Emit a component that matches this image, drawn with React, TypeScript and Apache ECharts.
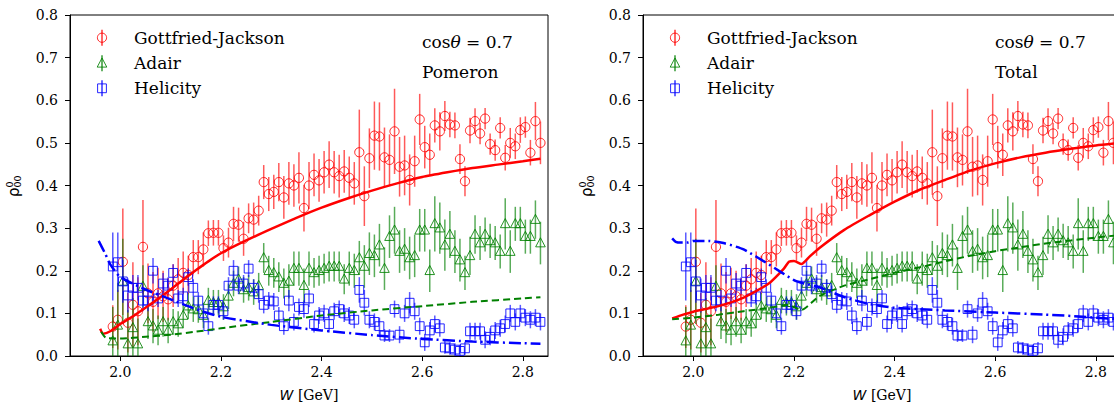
import React, { useEffect, useRef } from "react";
import * as echarts from "echarts";

// W bin centres [GeV]
const W = [1.985,1.995,2.005,2.015,2.025,2.035,2.045,2.055,2.065,2.075,2.085,2.095,2.105,2.115,2.125,2.135,2.145,2.155,2.165,2.175,2.185,2.195,2.205,2.215,2.225,2.235,2.245,2.255,2.265,2.275,2.285,2.295,2.305,2.315,2.325,2.335,2.345,2.355,2.365,2.375,2.385,2.395,2.405,2.415,2.425,2.435,2.445,2.455,2.465,2.475,2.485,2.495,2.505,2.515,2.525,2.535,2.545,2.555,2.565,2.575,2.585,2.595,2.605,2.615,2.625,2.635,2.645,2.655,2.665,2.675,2.685,2.695,2.705,2.715,2.725,2.735,2.745,2.755,2.765,2.775,2.785,2.795,2.805,2.815,2.825,2.835];

// Gottfried-Jackson
const GJ = [0.069,0.085,0.221,0.078,0.120,0.105,0.256,0.147,0.127,0.147,0.140,0.133,0.165,0.180,0.195,0.190,0.232,0.232,0.250,0.288,0.289,0.289,0.253,0.266,0.310,0.308,0.275,0.323,0.320,0.341,0.408,0.380,0.385,0.408,0.372,0.405,0.400,0.418,0.347,0.400,0.425,0.412,0.431,0.449,0.431,0.422,0.433,0.418,0.405,0.478,0.375,0.464,0.517,0.515,0.466,0.460,0.527,0.444,0.447,0.413,0.457,0.555,0.490,0.472,0.541,0.527,0.563,0.543,0.541,0.462,0.410,0.529,0.551,0.522,0.557,0.497,0.483,0.535,0.465,0.500,0.492,0.530,0.537,0.477,0.551,0.500];
const GJ_ERR = [0.05,0.07,0.125,0.07,0.10,0.08,0.11,0.07,0.07,0.06,0.06,0.05,0.05,0.05,0.05,0.045,0.04,0.04,0.04,0.03,0.03,0.03,0.03,0.035,0.04,0.04,0.04,0.035,0.04,0.035,0.04,0.04,0.04,0.045,0.05,0.05,0.05,0.06,0.055,0.055,0.05,0.05,0.05,0.055,0.05,0.05,0.05,0.05,0.05,0.1,0.07,0.07,0.08,0.08,0.07,0.06,0.1,0.07,0.07,0.06,0.06,0.06,0.05,0.05,0.04,0.045,0.035,0.03,0.03,0.035,0.035,0.03,0.03,0.025,0.025,0.025,0.025,0.025,0.03,0.035,0.03,0.03,0.025,0.03,0.045,0.05];

// Adair
const AD = [0.035,0.072,0.175,0.028,0.066,0.028,0.163,0.080,0.070,0.060,0.080,0.060,0.080,0.075,0.095,0.117,0.110,0.108,0.095,0.130,0.125,0.125,0.115,0.140,0.170,0.180,0.155,0.160,0.150,0.165,0.230,0.200,0.195,0.185,0.170,0.175,0.205,0.205,0.165,0.205,0.195,0.200,0.205,0.210,0.210,0.210,0.180,0.205,0.200,0.230,0.210,0.240,0.235,0.260,0.205,0.280,0.295,0.245,0.250,0.230,0.235,0.295,0.295,0.200,0.310,0.300,0.260,0.285,0.245,0.225,0.195,0.235,0.285,0.265,0.285,0.270,0.265,0.245,0.310,0.245,0.310,0.310,0.280,0.280,0.320,0.265];
const AD_ERR = [0.08,0.1,0.1,0.08,0.07,0.06,0.05,0.04,0.04,0.035,0.035,0.03,0.03,0.03,0.03,0.03,0.03,0.03,0.03,0.03,0.03,0.03,0.03,0.03,0.03,0.03,0.03,0.03,0.03,0.03,0.035,0.035,0.035,0.035,0.035,0.04,0.04,0.04,0.04,0.04,0.035,0.035,0.035,0.035,0.035,0.035,0.035,0.04,0.04,0.04,0.05,0.05,0.05,0.05,0.05,0.05,0.055,0.05,0.05,0.05,0.05,0.05,0.05,0.05,0.065,0.06,0.06,0.055,0.05,0.05,0.04,0.045,0.045,0.04,0.04,0.04,0.04,0.04,0.06,0.05,0.04,0.04,0.04,0.04,0.045,0.05];

// Helicity
const HE = [0.210,0.220,0.175,0.142,0.160,0.160,0.130,0.130,0.200,0.135,0.170,0.165,0.195,0.135,0.140,0.185,0.160,0.130,0.100,0.070,0.120,0.120,0.105,0.165,0.200,0.165,0.170,0.205,0.160,0.145,0.120,0.130,0.128,0.095,0.070,0.130,0.080,0.115,0.110,0.135,0.075,0.095,0.100,0.075,0.105,0.110,0.100,0.095,0.085,0.155,0.125,0.085,0.080,0.070,0.048,0.048,0.110,0.050,0.100,0.125,0.105,0.070,0.032,0.060,0.075,0.065,0.020,0.018,0.015,0.012,0.018,0.058,0.058,0.058,0.038,0.045,0.060,0.065,0.075,0.100,0.080,0.100,0.090,0.085,0.090,0.080];
const HE_ERR = [0.08,0.07,0.05,0.04,0.03,0.03,0.025,0.025,0.03,0.02,0.025,0.02,0.02,0.02,0.02,0.02,0.02,0.02,0.02,0.02,0.02,0.02,0.02,0.02,0.025,0.02,0.02,0.02,0.02,0.02,0.02,0.02,0.02,0.02,0.02,0.025,0.02,0.02,0.02,0.02,0.02,0.02,0.02,0.02,0.02,0.02,0.02,0.02,0.02,0.03,0.03,0.02,0.02,0.02,0.015,0.015,0.02,0.02,0.02,0.025,0.02,0.02,0.02,0.02,0.02,0.02,0.015,0.015,0.015,0.015,0.015,0.02,0.02,0.02,0.02,0.02,0.02,0.02,0.02,0.02,0.02,0.02,0.02,0.02,0.02,0.02];

// Model curves — Pomeron panel
const POM_GJ = [[1.96,0.064],[1.966,0.052],[1.98,0.058],[2.0,0.075],[2.025,0.093],[2.05,0.113],[2.075,0.134],[2.1,0.156],[2.125,0.179],[2.15,0.201],[2.175,0.222],[2.2,0.241],[2.25,0.271],[2.3,0.298],[2.35,0.324],[2.4,0.348],[2.45,0.369],[2.5,0.388],[2.55,0.405],[2.6,0.42],[2.65,0.431],[2.7,0.441],[2.75,0.449],[2.8,0.457],[2.835,0.463]];
const POM_AD = [[1.962,0.057],[1.972,0.042],[2.0,0.041],[2.05,0.045],[2.1,0.05],[2.15,0.057],[2.2,0.065],[2.3,0.08],[2.4,0.095],[2.5,0.107],[2.6,0.117],[2.7,0.127],[2.8,0.135],[2.835,0.138]];
const POM_HE = [[1.957,0.27],[1.97,0.24],[1.98,0.215],[2.0,0.185],[2.05,0.156],[2.1,0.133],[2.15,0.11],[2.2,0.092],[2.3,0.073],[2.4,0.06],[2.5,0.049],[2.6,0.04],[2.7,0.034],[2.8,0.03],[2.835,0.029]];

// Model curves — Total panel
const TOT_GJ = [[1.958,0.088],[1.98,0.097],[2.0,0.104],[2.05,0.117],[2.1,0.137],[2.15,0.17],[2.18,0.205],[2.19,0.221],[2.2,0.223],[2.215,0.216],[2.23,0.232],[2.25,0.253],[2.3,0.296],[2.35,0.33],[2.4,0.362],[2.45,0.39],[2.5,0.413],[2.55,0.435],[2.6,0.452],[2.65,0.466],[2.7,0.477],[2.75,0.486],[2.8,0.494],[2.85,0.5]];
const TOT_AD = [[1.958,0.086],[2.0,0.09],[2.05,0.097],[2.1,0.105],[2.15,0.113],[2.19,0.12],[2.2,0.115],[2.215,0.108],[2.25,0.14],[2.3,0.165],[2.35,0.18],[2.4,0.195],[2.45,0.208],[2.5,0.222],[2.55,0.235],[2.6,0.246],[2.65,0.255],[2.7,0.264],[2.75,0.271],[2.8,0.278],[2.85,0.284]];
const TOT_HE = [[1.958,0.276],[1.965,0.268],[1.975,0.266],[1.99,0.266],[2.0,0.27],[2.03,0.27],[2.06,0.265],[2.1,0.25],[2.15,0.215],[2.2,0.178],[2.22,0.17],[2.25,0.162],[2.3,0.138],[2.35,0.122],[2.4,0.113],[2.45,0.11],[2.5,0.107],[2.6,0.102],[2.7,0.097],[2.75,0.094],[2.8,0.09],[2.85,0.086]];

const X_TICKS = [2.0, 2.2, 2.4, 2.6, 2.8];
const LEGEND_NAMES = ["Gottfried-Jackson", "Adair", "Helicity"];
const PANEL_LABELS = ["Pomeron", "Total"];

const RED = "#ff0000";
const GREEN = "#008000";
const BLUE = "#0000ff";
const SERIF = "'DejaVu Serif', serif";

function markerEl(shape: string, cx: number, cy: number, color: string) {
  const st = { fill: "none", stroke: color, lineWidth: 1, opacity: 0.85 };
  if (shape === "circle") return { type: "circle", shape: { cx, cy, r: 4.6 }, style: st };
  if (shape === "triangle")
    return { type: "polygon", shape: { points: [[cx, cy - 5.3], [cx - 4.8, cy + 3.8], [cx + 4.8, cy + 3.8]] }, style: st };
  return { type: "rect", shape: { x: cx - 4.4, y: cy - 4.4, width: 8.8, height: 8.8 }, style: st };
}

function errRender(shape: string, color: string) {
  return (params: any, api: any) => {
    const x = api.value(0), y = api.value(1), e = api.value(2);
    const c = api.coord([x, y]);
    const lo = api.coord([x, y - e]);
    const hi = api.coord([x, y + e]);
    return {
      type: "group",
      children: [
        { type: "line", shape: { x1: c[0], y1: lo[1], x2: c[0], y2: hi[1] }, style: { stroke: color, lineWidth: 1.5, opacity: 0.65 } },
        markerEl(shape, c[0], c[1], color),
      ],
    };
  };
}

function App() {
  const ref = useRef<HTMLDivElement>(null);
  useEffect(() => {
    if (!ref.current) return;
    const chart = echarts.init(ref.current, null, { renderer: "svg" });
    const gridLefts = [70, 643];
    const grids = gridLefts.map((l) => ({
      left: l, top: 15, width: 478, height: 341,
      show: true, borderColor: "#000", borderWidth: 1, backgroundColor: "transparent",
      containLabel: false, outerBoundsMode: "none",
    }));
    const xAxes = gridLefts.map((_, i) => ({
      type: "value", gridIndex: i, min: 1.9, max: 2.85,
      name: "{i|W} [GeV]", nameLocation: "middle", nameGap: 32,
      nameTextStyle: { fontFamily: SERIF, fontSize: 14, color: "#000", rich: { i: { fontFamily: "DejaVu Sans", fontStyle: "italic", fontSize: 14, color: "#000" } } },
      axisLine: { show: true, lineStyle: { color: "#000", width: 1 } },
      axisTick: { show: true, inside: false, length: 5, customValues: X_TICKS, lineStyle: { color: "#000" } },
      axisLabel: { show: true, customValues: X_TICKS, fontFamily: SERIF, fontSize: 14, color: "#000", margin: 9, formatter: (v: number) => v.toFixed(1) },
      splitLine: { show: false },
    }));
    const yAxes = gridLefts.map((_, i) => ({
      type: "value", gridIndex: i, min: 0, max: 0.8, interval: 0.1,
      axisLine: { show: true, lineStyle: { color: "#000", width: 1 } },
      axisTick: { show: true, inside: false, length: 5, lineStyle: { color: "#000" } },
      axisLabel: { fontFamily: SERIF, fontSize: 14, color: "#000", margin: 12, formatter: (v: number) => v.toFixed(1) },
      splitLine: { show: false },
    }));

    const series: any[] = [];
    const pts = [
      { name: LEGEND_NAMES[0], v: GJ, e: GJ_ERR, shape: "circle", color: RED },
      { name: LEGEND_NAMES[1], v: AD, e: AD_ERR, shape: "triangle", color: GREEN },
      { name: LEGEND_NAMES[2], v: HE, e: HE_ERR, shape: "square", color: BLUE },
    ];
    const curves = [
      [POM_GJ, POM_AD, POM_HE],
      [TOT_GJ, TOT_AD, TOT_HE],
    ];
    const curveStyles = [
      { color: RED, width: 2.5, type: "solid" },
      { color: GREEN, width: 2, type: [7, 4] },
      { color: BLUE, width: 2.5, type: [12, 4, 2, 4] },
    ];
    for (let g = 0; g < 2; g++) {
      pts.forEach((p) => {
        series.push({
          type: "custom", name: p.name, xAxisIndex: g, yAxisIndex: g, clip: true, z: 2,
          renderItem: errRender(p.shape, p.color),
          encode: { x: 0, y: 1 },
          data: W.map((x, i) => [x, p.v[i], p.e[i]]),
        });
      });
      curves[g].forEach((c, k) => {
        series.push({
          type: "line", xAxisIndex: g, yAxisIndex: g, data: c, showSymbol: false, smooth: 0.2, z: 3, clip: true,
          lineStyle: curveStyles[k], silent: true,
        });
      });
    }

    const txt = (text: string, size: number, family: string) => ({
      text, fontFamily: family, fontSize: size, fill: "#000",
      textAlign: "left", textVerticalAlign: "middle", align: "left", verticalAlign: "middle",
    });

    const graphic: any[] = [];
    gridLefts.forEach((l, g) => {
      const dx = l - 70;
      // legend
      const rows = [37.7, 63.3, 88.3];
      pts.forEach((p, k) => {
        const cx = 102 + dx, cy = rows[k];
        graphic.push({ type: "line", shape: { x1: cx, y1: cy - 8, x2: cx, y2: cy + 8 }, style: { stroke: p.color, lineWidth: 1.5, opacity: 0.8 } });
        graphic.push(markerEl(p.shape, cx, cy, p.color));
        graphic.push({ type: "text", x: 134 + dx, y: cy, style: txt(p.name, 17, SERIF) });
      });
      // annotation
      graphic.push({
        type: "text", x: 422 + dx, y: 42,
        style: {
          text: "{n|cos}{t|θ}{n| = 0.7}", textAlign: "left", textVerticalAlign: "middle", align: "left", verticalAlign: "middle",
          rich: { n: { fontFamily: SERIF, fontSize: 17, fill: "#000" }, t: { fontFamily: SERIF, fontStyle: "italic", fontSize: 17, fill: "#000" } },
        },
      });
      graphic.push({ type: "text", x: 422 + dx, y: 72, style: txt(PANEL_LABELS[g], 17, SERIF) });
      // y axis name rho^0_00
      graphic.push({
        type: "group", x: 14 + dx, y: 197, rotation: Math.PI / 2,
        children: [
          { type: "text", x: 0, y: 0, style: txt("ρ", 15, "DejaVu Sans") },
          { type: "text", x: 9.5, y: -4.5, style: txt("0", 9.5, "DejaVu Sans") },
          { type: "text", x: 9.5, y: 3, style: txt("00", 9.5, "DejaVu Sans") },
        ],
      });
    });

    chart.setOption({
      animation: false,
      backgroundColor: "#fff",
      grid: grids,
      xAxis: xAxes,
      yAxis: yAxes,
      series,
      graphic,
    });
    return () => chart.dispose();
  }, []);
  return <div ref={ref} style={{ position: "fixed", left: 0, top: 0, width: 1114, height: 403 }} />;
}

export default App;
